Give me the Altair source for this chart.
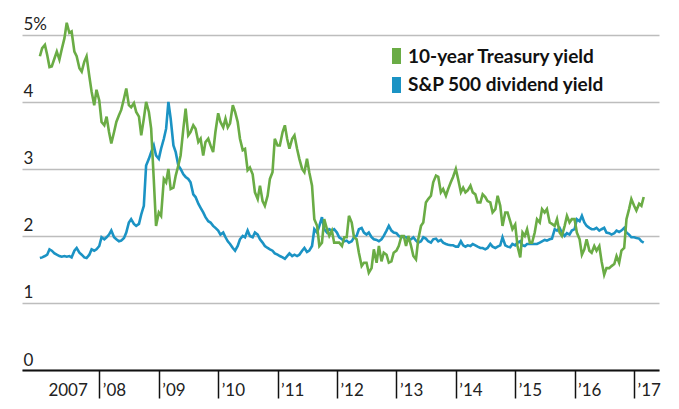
import altair as alt
import pandas as pd

# semi-monthly observation dates (1st and 15th of each month)
dates = []
for yr in range(2007, 2018):
    for mo in range(1, 13):
        for d in (1, 15):
            if yr == 2017 and (mo > 3 or (mo == 3 and d == 15)):
                continue
            dates.append(f"{yr}-{mo:02d}-{d:02d}")

treasury = [
    # 2007
    4.68, 4.80, 4.85, 4.70, 4.52, 4.53, 4.65, 4.75, 4.63, 4.78, 4.95, 5.18,
    5.03, 5.05, 4.75, 4.68, 4.50, 4.45, 4.60, 4.68, 4.38, 4.15, 3.95, 4.18,
    # 2008
    4.02, 3.70, 3.65, 3.78, 3.55, 3.38, 3.55, 3.70, 3.80, 3.88, 4.05, 4.20,
    3.95, 3.92, 3.98, 3.85, 3.78, 3.50, 3.75, 4.00, 3.85, 3.60, 2.85, 2.15,
    # 2009
    2.35, 2.30, 2.85, 2.80, 3.00, 2.70, 2.72, 2.90, 3.05, 3.20, 3.60, 3.90,
    3.50, 3.55, 3.65, 3.60, 3.40, 3.45, 3.20, 3.40, 3.45, 3.35, 3.25, 3.55,
    # 2010
    3.83, 3.70, 3.62, 3.75, 3.62, 3.68, 3.95, 3.85, 3.70, 3.45, 3.28, 3.30,
    2.98, 3.02, 2.92, 2.65, 2.55, 2.75, 2.52, 2.45, 2.60, 2.85, 2.95, 3.45,
    # 2011
    3.35, 3.35, 3.55, 3.65, 3.45, 3.30, 3.45, 3.50, 3.30, 3.15, 3.00, 2.95,
    3.15, 2.95, 2.75, 2.25, 2.15, 1.85, 1.90, 2.25, 2.10, 2.00, 2.08, 1.90,
    # 2012
    1.90, 1.90, 1.85, 1.98, 1.98, 2.30, 2.20, 1.98, 1.95, 1.75, 1.55, 1.60,
    1.60, 1.45, 1.52, 1.80, 1.60, 1.85, 1.62, 1.75, 1.72, 1.60, 1.62, 1.75,
    # 2013
    1.78, 1.85, 2.00, 2.00, 1.85, 2.00, 1.85, 1.70, 1.65, 1.95, 2.15, 2.20,
    2.50, 2.55, 2.60, 2.80, 2.90, 2.88, 2.65, 2.70, 2.60, 2.70, 2.80, 2.88,
    # 2014
    3.00, 2.85, 2.65, 2.72, 2.65, 2.68, 2.75, 2.65, 2.62, 2.50, 2.50, 2.62,
    2.58, 2.52, 2.50, 2.35, 2.40, 2.60, 2.45, 2.15, 2.35, 2.35, 2.22, 2.10,
    # 2015
    2.17, 1.85, 1.68, 2.05, 2.00, 2.10, 1.90, 1.90, 2.05, 2.25, 2.20, 2.40,
    2.35, 2.40, 2.20, 2.18, 2.15, 2.25, 2.05, 2.00, 2.15, 2.30, 2.20, 2.25,
    # 2016
    2.25, 2.05, 1.95, 1.72, 1.80, 1.95, 1.78, 1.75, 1.85, 1.78, 1.85, 1.62,
    1.42, 1.52, 1.52, 1.55, 1.58, 1.70, 1.60, 1.78, 1.82, 2.25, 2.40, 2.55,
    # 2017
    2.45, 2.38, 2.48, 2.45, 2.58,
]

dividend = [
    # 2007
    1.67, 1.68, 1.70, 1.72, 1.80, 1.78, 1.74, 1.72, 1.70, 1.69, 1.70, 1.69,
    1.70, 1.68, 1.78, 1.82, 1.75, 1.72, 1.68, 1.67, 1.72, 1.80, 1.78, 1.80,
    # 2008
    1.85, 1.98, 1.95, 1.98, 2.02, 2.08, 1.98, 1.95, 1.92, 1.93, 1.97, 2.05,
    2.20, 2.25, 2.18, 2.15, 2.18, 2.32, 2.45, 3.05, 3.15, 3.25, 3.35, 3.20,
    # 2009
    3.15, 3.30, 3.45, 3.60, 4.00, 3.75, 3.35, 3.25, 3.05, 3.00, 2.92, 2.88,
    2.85, 2.80, 2.62, 2.58, 2.48, 2.42, 2.35, 2.28, 2.22, 2.20, 2.15, 2.12,
    # 2010
    2.08, 2.02, 2.05, 1.98, 1.92, 1.88, 1.82, 1.78, 1.85, 1.95, 2.00, 1.98,
    2.08, 2.00, 1.98, 2.05, 2.02, 1.95, 1.90, 1.85, 1.82, 1.80, 1.78, 1.74,
    # 2011
    1.72, 1.70, 1.68, 1.66, 1.70, 1.74, 1.70, 1.72, 1.70, 1.72, 1.78, 1.82,
    1.76, 1.78, 1.85, 2.10, 2.05, 2.15, 2.28, 2.10, 2.05, 2.10, 2.08, 2.10,
    # 2012
    2.05, 1.98, 1.95, 1.92, 1.93, 1.90, 1.92, 1.98, 2.00, 2.10, 2.12, 2.05,
    2.02, 2.05, 1.98, 1.95, 1.94, 1.92, 1.95, 2.00, 2.08, 2.15, 2.08, 2.05,
    # 2013
    2.04, 2.00, 1.98, 1.99, 1.98, 1.95, 1.95, 1.98, 1.93, 1.90, 1.92, 1.98,
    1.96, 1.92, 1.90, 1.95, 1.96, 1.92, 1.94, 1.90, 1.88, 1.87, 1.86, 1.86,
    # 2014
    1.84, 1.84, 1.92, 1.86, 1.84, 1.86, 1.85, 1.88, 1.86, 1.84, 1.82, 1.82,
    1.80, 1.82, 1.88, 1.84, 1.82, 1.84, 1.86, 1.98, 1.86, 1.84, 1.83, 1.88,
    # 2015
    1.86, 1.90, 1.92, 1.86, 1.85, 1.88, 1.88, 1.88, 1.88, 1.88, 1.90, 1.92,
    1.94, 1.93, 1.95, 1.96, 2.10, 2.08, 2.12, 2.05, 2.00, 2.04, 2.02, 2.08,
    # 2016
    2.10, 2.25, 2.22, 2.30, 2.20, 2.15, 2.12, 2.10, 2.10, 2.12, 2.08, 2.10,
    2.12, 2.05, 2.04, 2.02, 2.04, 2.08, 2.06, 2.08, 2.12, 2.05, 2.02, 1.98,
    # 2017
    1.98, 1.97, 1.96, 1.92, 1.90,
]

series_names = ["10-year Treasury yield", "S&P 500 dividend yield"]
series_colors = ["#6aac45", "#1b93c4"]
year_ticks = list(range(2007, 2018))
x_labels = ["2007", "’08", "’09", "’10", "’11", "’12", "’13", "’14", "’15", "’16", "’17"]
y_ticks = [0, 1, 2, 3, 4, 5]
y_labels = ["0", "1", "2", "3", "4", "5%"]

df = pd.DataFrame({"date": dates, "treasury": treasury, "dividend": dividend})

FONT = "Lato"

x_label_expr = "[" + ",".join(f"'{s}'" for s in x_labels) + "][year(datum.value)-2007]"
y_label_expr = "[" + ",".join(f"'{s}'" for s in y_labels) + "][datum.value]"

x_enc = alt.X(
    "date:T",
    title=None,
    scale=alt.Scale(domain=[alt.DateTime(year=2006, month=9, date=13),
                            alt.DateTime(year=2017, month=6, date=3)]),
    axis=alt.Axis(
        values=[alt.DateTime(year=y, month=1, date=1) for y in year_ticks],
        labelExpr=x_label_expr,
        grid=False,
        domainColor="#111111",
        domainWidth=2,
        tickColor="#111111",
        tickWidth=1.5,
        tickSize=28,
        tickOpacity={"condition": {"test": "year(datum.value) == 2007", "value": 0}, "value": 1},
        labelOffset={"condition": {"test": "year(datum.value) == 2007", "value": 8}, "value": 3},
        labelAlign="left",
        labelBaseline="alphabetic",
        labelPadding=-3,
        labelFont=FONT,
        labelFontSize=17,
        labelColor="#222222",
        labelOverlap=False,
        labelFlush=False,
    ),
)

y_scale = alt.Scale(domain=[0, 5.4], nice=False, zero=True)

base = alt.Chart(df)

blue_line = base.mark_line(color=series_colors[1], strokeWidth=2.6).encode(
    x=x_enc,
    y=alt.Y(
        "dividend:Q",
        title=None,
        scale=y_scale,
        axis=alt.Axis(
            values=y_ticks,
            labelExpr=y_label_expr,
            domain=False,
            ticks=False,
            gridColor="#bdbdbd",
            gridWidth=1.5,
            labelAlign="left",
            labelBaseline="alphabetic",
            labelPadding=-1,
            labelOffset=-5,
            labelFont=FONT,
            labelFontSize=17,
            labelColor="#222222",
        ),
    ),
)

green_line = base.mark_line(color=series_colors[0], strokeWidth=2.6).encode(
    x="date:T",
    y=alt.Y("treasury:Q", scale=y_scale),
)

legend_df = pd.DataFrame({"name": series_names})

leg_sq1 = alt.Chart(legend_df).transform_filter(
    alt.datum.name == series_names[0]
).mark_rule(color=series_colors[0], strokeWidth=9).encode(
    x=alt.value(374.5), y=alt.value(40), y2=alt.value(56)
)
leg_sq2 = alt.Chart(legend_df).transform_filter(
    alt.datum.name == series_names[1]
).mark_rule(color=series_colors[1], strokeWidth=9).encode(
    x=alt.value(374.5), y=alt.value(69), y2=alt.value(85)
)
leg_t1 = alt.Chart(legend_df).transform_filter(
    alt.datum.name == series_names[0]
).mark_text(align="left", baseline="alphabetic", font=FONT, fontSize=19,
            fontWeight="bold", color="#111111").encode(
    x=alt.value(386), y=alt.value(55), text="name:N"
)
leg_t2 = alt.Chart(legend_df).transform_filter(
    alt.datum.name == series_names[1]
).mark_text(align="left", baseline="alphabetic", font=FONT, fontSize=19,
            fontWeight="bold", color="#111111").encode(
    x=alt.value(386), y=alt.value(83), text="name:N"
)

chart = alt.layer(blue_line, green_line, leg_sq1, leg_sq2, leg_t1, leg_t2).properties(
    width=637,
    height=362,
    padding={"left": 14, "top": 0, "right": 5, "bottom": 5},
    background="white",
).configure_view(stroke=None)

chart.save("out.html", embed_options={"renderer": "svg", "actions": False})
